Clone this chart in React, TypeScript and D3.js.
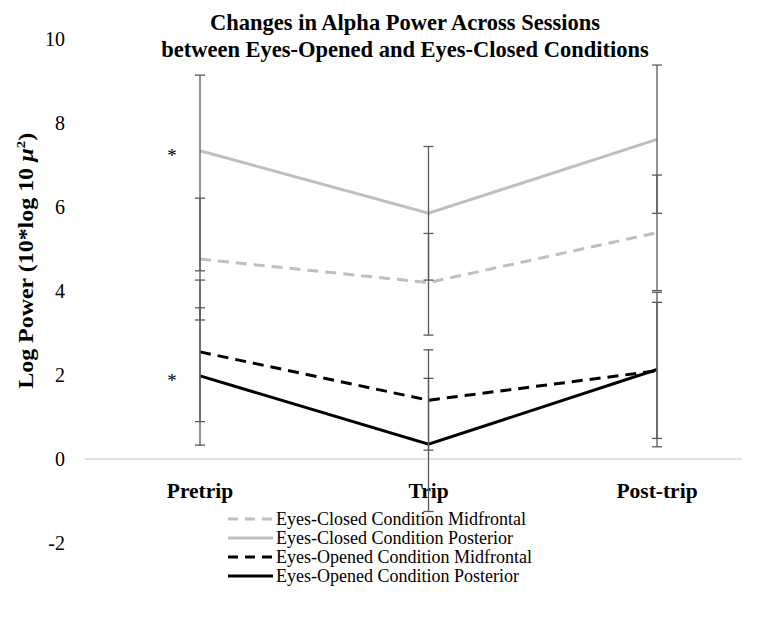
import React from 'react';
import * as d3 from 'd3';

const sessions = ['Pretrip', 'Trip', 'Post-trip'];

// means
const ecMid = [4.76, 4.2, 5.39];
const ecPost = [7.34, 5.85, 7.61];
const eoMid = [2.55, 1.4, 2.1];
const eoPost = [1.98, 0.35, 2.13];

// error bar ends (upper / lower)
const ecMidHi = [6.21, 5.37, 6.76];
const ecMidLo = [3.31, 2.95, 4.01];
const ecPostHi = [9.14, 7.44, 9.38];
const ecPostLo = [4.48, 4.26, 5.85];
const eoMidHi = [4.26, 2.6, 3.73];
const eoMidLo = [0.89, 0.21, 0.49];
const eoPostHi = [3.6, 1.92, 3.97];
const eoPostLo = [0.33, -1.25, 0.29];

const yTicks = [-2, 0, 2, 4, 6, 8, 10];
const starred = [ecPost[0], eoPost[0]];

const series = [
  { name: 'Eyes-Closed Condition Midfrontal', values: ecMid, hi: ecMidHi, lo: ecMidLo, color: '#bfbfbf', dash: '11,7' },
  { name: 'Eyes-Closed Condition Posterior', values: ecPost, hi: ecPostHi, lo: ecPostLo, color: '#bfbfbf', dash: null },
  { name: 'Eyes-Opened Condition Midfrontal', values: eoMid, hi: eoMidHi, lo: eoMidLo, color: '#000000', dash: '11,7' },
  { name: 'Eyes-Opened Condition Posterior', values: eoPost, hi: eoPostHi, lo: eoPostLo, color: '#000000', dash: null },
];

const W = 758;
const H = 618;
const font = '"Liberation Serif", "Times New Roman", serif';

export default function App() {
  const x = d3.scalePoint<string>().domain(sessions).range([200, 657]);
  const y = d3.scaleLinear().domain([-2, 10]).range([543, 39]);

  const line = d3.line<number>()
    .x((_, i) => x(sessions[i]) as number)
    .y(d => y(d));

  return (
    <svg width={W} height={H} style={{ position: 'absolute', left: 0, top: 0, background: '#fff', fontFamily: font }}>
      {/* title */}
      <text x={405} y={30} textAnchor="middle" fontWeight="bold" fontSize={22.5}>
        Changes in Alpha Power Across Sessions
      </text>
      <text x={405} y={57} textAnchor="middle" fontWeight="bold" fontSize={22.5}>
        between Eyes-Opened and Eyes-Closed Conditions
      </text>

      {/* y axis labels */}
      {yTicks.map(t => (
        <text key={t} x={65} y={y(t)} dy="0.35em" textAnchor="end" fontSize={20}>
          {t}
        </text>
      ))}
      <text transform={`translate(33,${y(4.72)}) rotate(-90) scale(1.14,1)`} textAnchor="middle" fontWeight="bold" fontSize={21}>
        Log Power (10*log 10 <tspan fontStyle="italic">µ</tspan>
        <tspan dy={-8} fontSize={13}>2</tspan>
        <tspan dy={8}>)</tspan>
      </text>

      {/* zero line */}
      <line x1={85} x2={742} y1={y(0)} y2={y(0)} stroke="#d9d9d9" strokeWidth={1.5} />

      {/* category labels */}
      {sessions.map(s => (
        <text key={s} x={x(s)} y={498} textAnchor="middle" fontWeight="bold" fontSize={21.5}>
          {s}
        </text>
      ))}

      {/* lines */}
      {series.map(s => (
        <path key={s.name} d={line(s.values) || ''} fill="none" stroke={s.color}
          strokeWidth={3} strokeDasharray={s.dash || undefined} />
      ))}

      {/* error bars */}
      {series.map(s => s.values.map((_, i) => {
        const cx = x(sessions[i]) as number;
        return (
          <g key={s.name + i} stroke="#595959" strokeWidth={1.3}>
            <line x1={cx} x2={cx} y1={y(s.hi[i])} y2={y(s.lo[i])} />
            <line x1={cx - 5} x2={cx + 5} y1={y(s.hi[i])} y2={y(s.hi[i])} />
            <line x1={cx - 5} x2={cx + 5} y1={y(s.lo[i])} y2={y(s.lo[i])} />
          </g>
        );
      }))}

      {/* significance markers */}
      {starred.map((v, i) => (
        <text key={i} x={172} y={y(v)} dy="0.6em" textAnchor="middle" fontSize={19}>*</text>
      ))}

      {/* legend */}
      {series.map((s, i) => {
        const ly = 519 + i * 19;
        return (
          <g key={s.name}>
            <line x1={228} x2={273} y1={ly} y2={ly} stroke={s.color} strokeWidth={3}
              strokeDasharray={s.dash ? '10,7' : undefined} />
            <text x={276} y={ly} dy="0.35em" fontSize={18}>{s.name}</text>
          </g>
        );
      })}
    </svg>
  );
}
